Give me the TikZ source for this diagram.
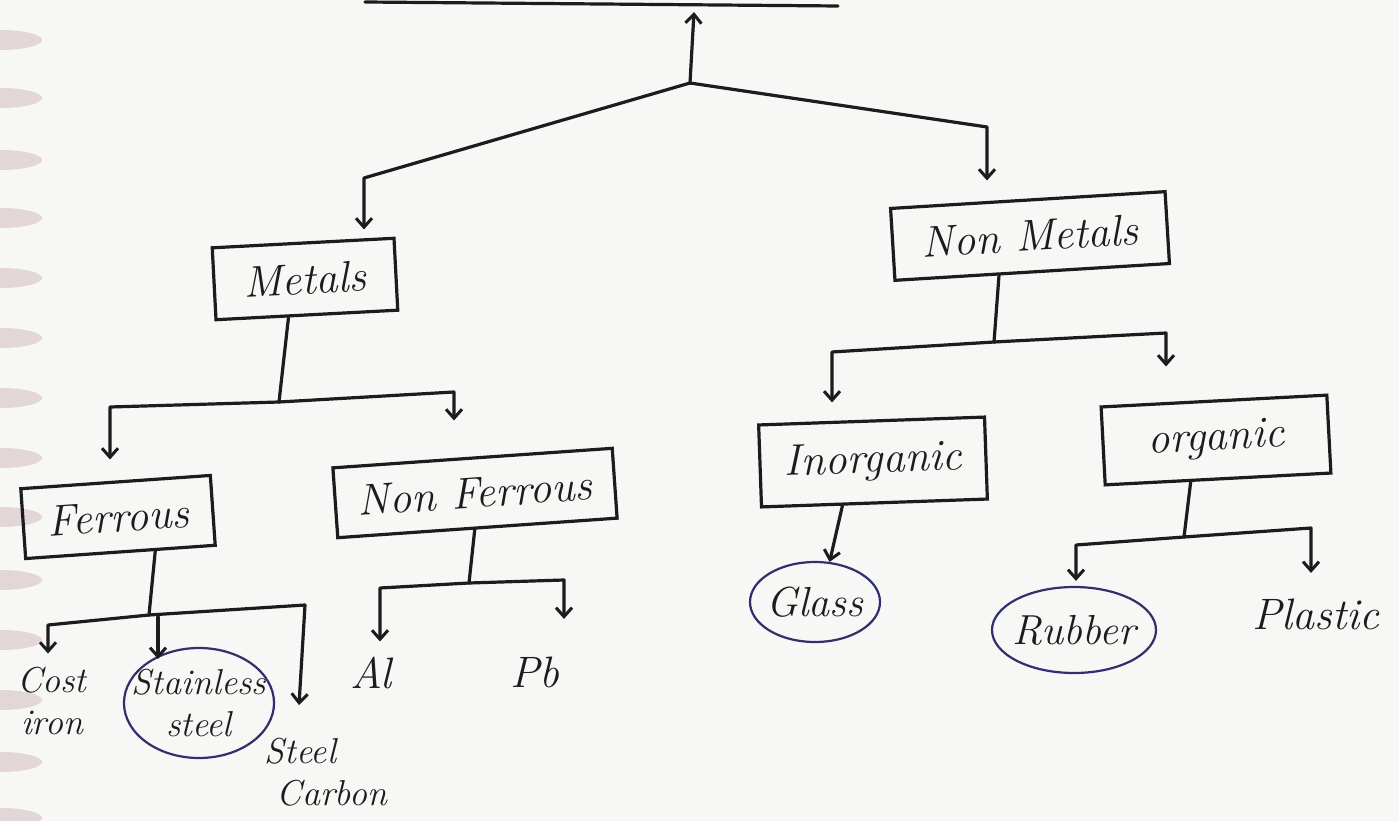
\documentclass[tikz,border=0pt]{standalone}
\usetikzlibrary{arrows.meta,shapes.geometric,calc}
\definecolor{ink}{RGB}{28,28,28}
\definecolor{blueink}{RGB}{48,48,110}
\definecolor{paper}{RGB}{247,247,245}
\definecolor{hole}{RGB}{226,214,216}
\newcommand\handbig{\fontsize{44}{48}\selectfont\itshape}
\newcommand\handmid{\fontsize{44}{48}\selectfont\itshape}
\newcommand\handoval{\fontsize{42}{46}\selectfont\itshape}
\newcommand\handsmall{\fontsize{36}{42}\selectfont\itshape}
\begin{document}
\begin{tikzpicture}[x=1pt,y=-1pt,
  line width=3.2pt, draw=ink, text=ink,
  box/.style={draw=ink, line width=3.2pt, inner sep=0pt, font=\handbig},
  oval/.style={ellipse, draw=blueink, line width=2.2pt, inner sep=-14pt, font=\handoval, align=center},
  lbl/.style={inner sep=0pt, font=\handmid},
  lbltwo/.style={inner sep=0pt, font=\handsmall, align=center},
  arr/.style={-{Straight Barb[length=9pt,width=16pt,line width=3pt]}, line join=round, line cap=round},
  plain/.style={line join=round, line cap=round},
  binding/.style={fill=hole, draw=none}]
\useasboundingbox (0,0) rectangle (1399,821);
\fill[paper] (0,0) rectangle (1399,821);
% binding holes at the left margin
\foreach \yy in {40,98,160,218,278,338,398,458,517,580,640,700,762,818}
  \fill[binding] (0,\yy) ellipse [x radius=42, y radius=10];

% top box (only its lower edge is visible)
\coordinate (tl) at (365,2);
\coordinate (tr) at (838,6);
\draw[plain] (tl) -- (tr);
\coordinate (topin) at (694,12);

% boxes
\node[box, rotate=3, minimum width=182, minimum height=72] (metals) at (305,279) {Metals};
\node[box, rotate=3.5, minimum width=275, minimum height=72] (nonmetals) at (1030,236) {Non Metals};
\node[box, rotate=4, minimum width=190, minimum height=70] (ferrous) at (118,517) {Ferrous};
\node[box, rotate=4, minimum width=280, minimum height=70] (nonferrous) at (475,493) {Non Ferrous};
\node[box, rotate=2, minimum width=226, minimum height=82] (inorganic) at (873,462) {Inorganic};
\node[box, rotate=3, minimum width=226, minimum height=78] (organic) at (1216,440) {organic};

% leaves
\node[lbltwo] (castiron) at (52,701) {Cost\\iron};
\node[oval, font=\handsmall, minimum width=150, minimum height=110] (stainless) at (199,703) {Stainless\\steel};
\node[lbltwo, align=left] (steelcarbon) at (326,772) {Steel\\\hspace*{12pt}Carbon};
\node[lbl] (al) at (371,673) {Al};
\node[lbl] (pb) at (535,672) {Pb};
\node[oval, minimum width=130, minimum height=80] (glass) at (815,602) {Glass};
\node[oval, minimum width=164, minimum height=86] (rubber) at (1074,630) {Rubber};
\node[lbl] (plastic) at (1316,614) {Plastic};

% root junction
\coordinate (j0) at (690,83);
\coordinate (bl0) at (364,178);
\coordinate (br0) at (987,127);
\draw[arr] (j0) -- (topin);
\draw[arr, shorten >=12pt] (j0) -- (bl0) -- (bl0 |- metals.north);
\draw[arr, shorten >=18pt] (j0) -- (br0) -- (br0 |- nonmetals.north);

% metals branch
\coordinate (j1) at (279,402);
\coordinate (m1l) at (110,407);
\coordinate (m1r) at (454,392);
\draw[plain] ($(metals.south west)!0.4!(metals.south east)$) -- (j1);
\draw[arr, shorten >=21pt] (j1) -- (m1l) -- (m1l |- ferrous.north);
\draw[arr, shorten >=36pt] (j1) -- (m1r) -- (m1r |- nonferrous.north);

% ferrous branch
\coordinate (j2) at (149,615);
\coordinate (f1l) at (48,625);
\coordinate (f1m) at (158,617);
\coordinate (f1r) at (305,605);
\coordinate (scin) at (299,705);
\draw[plain] ($(ferrous.south west)!0.68!(ferrous.south east)$) -- (j2);
\draw[arr, shorten >=12pt] (j2) -- (f1l) -- (f1l |- castiron.north);
\draw[arr, shorten >=-12pt] (f1m) -- (f1m |- stainless.north);
\draw[arr] (j2) -- (f1r) -- (scin);

% non ferrous branch
\coordinate (j3) at (469,583);
\coordinate (n1l) at (380,588);
\coordinate (n1r) at (564,580);
\draw[plain] ($(nonferrous.south west)!0.49!(nonferrous.south east)$) -- (j3);
\draw[arr, shorten >=14pt] (j3) -- (n1l) -- (n1l |- al.north);
\draw[arr, shorten >=36pt] (j3) -- (n1r) -- (n1r |- pb.north);

% non metals branch
\coordinate (j4) at (994,342);
\coordinate (k1l) at (832,352);
\coordinate (k1r) at (1166,333);
\draw[plain] ($(nonmetals.south west)!0.38!(nonmetals.south east)$) -- (j4);
\draw[arr, shorten >=17pt] (j4) -- (k1l) -- (k1l |- inorganic.north);
\draw[arr, shorten >=33pt] (j4) -- (k1r) -- (k1r |- organic.north);

% inorganic branch
\draw[arr] ($(inorganic.south west)!0.36!(inorganic.south east)$) -- (glass.70);

% organic branch
\coordinate (j5) at (1184,537);
\coordinate (o1l) at (1076,545);
\coordinate (o1r) at (1311,528);
\draw[plain] ($(organic.south west)!0.38!(organic.south east)$) -- (j5);
\draw[arr, shorten >=5pt] (j5) -- (o1l) -- (o1l |- rubber.north);
\draw[arr, shorten >=24pt] (j5) -- (o1r) -- (o1r |- plastic.north);
\end{tikzpicture}
\end{document}
